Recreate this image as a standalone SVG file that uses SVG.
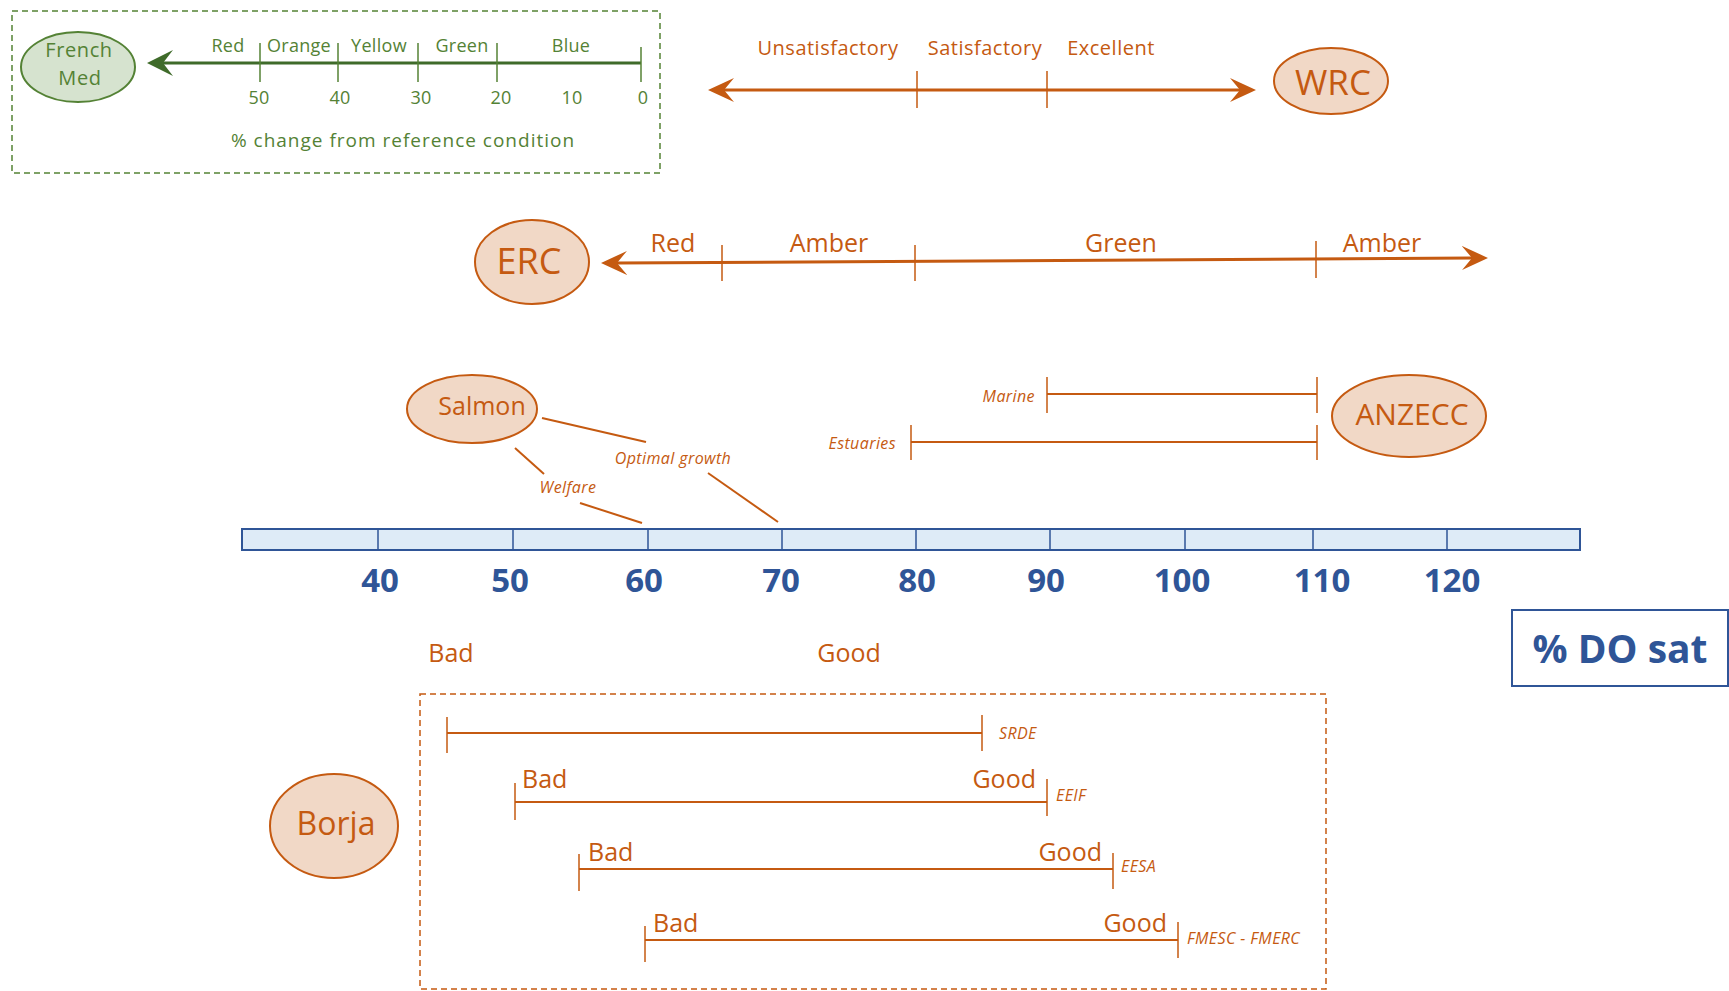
<svg xmlns="http://www.w3.org/2000/svg" width="1729" height="991" viewBox="0 0 1729 991">
<style>
  text { font-family: "Open Sans", "Liberation Sans", sans-serif; }
  .g { fill: #548235; }
  .o { fill: #C55A11; }
  .b { fill: #2F5597; font-weight: bold; }
  .it { font-style: italic; font-size: 16px; letter-spacing: 0.4px; }
  .mid { text-anchor: middle; }
  .end { text-anchor: end; }
  .node-o { fill: #F1D8C6; stroke: #C55A11; stroke-width: 2; }
  .node-g { fill: #D6E3CF; stroke: #548235; stroke-width: 2; }
  .ln-o { stroke: #C55A11; stroke-width: 2; fill: none; }
  .ax-o { stroke: #C55A11; stroke-width: 3; fill: none; }
  .tk-o { stroke: #C55A11; stroke-width: 1.5; }
  .ax-g { stroke: #3F6B2A; stroke-width: 3; fill: none; }
  .tk-g { stroke: #548235; stroke-width: 1.5; }
  .dash-g { fill: none; stroke: #548235; stroke-width: 1.5; stroke-dasharray: 6 4; }
  .dash-o { fill: none; stroke: #C55A11; stroke-width: 1.5; stroke-dasharray: 6 4; }
</style>
<defs>
  <marker id="arrO" markerUnits="userSpaceOnUse" markerWidth="28" markerHeight="28" viewBox="0 0 28 28" refX="10" refY="13" orient="auto-start-reverse">
    <path d="M0,1 L26,13 L0,25 L10,13 Z" fill="#C55A11"/>
  </marker>
  <marker id="arrG" markerUnits="userSpaceOnUse" markerWidth="28" markerHeight="28" viewBox="0 0 28 28" refX="10" refY="13" orient="auto-start-reverse">
    <path d="M0,0 L26,13 L0,26 L10,13 Z" fill="#3F6B2A"/>
  </marker>
</defs>
<rect width="1729" height="991" fill="#ffffff"/>

<!-- French Med scale -->
<g id="french-med-scale">
  <rect class="dash-g" x="12" y="11" width="648" height="162"/>
  <line class="ax-g" x1="163" y1="63" x2="641" y2="63" marker-start="url(#arrG)"/>
  <line class="tk-g" x1="260" y1="43" x2="260" y2="82"/>
  <line class="tk-g" x1="338" y1="43" x2="338" y2="82"/>
  <line class="tk-g" x1="418" y1="43" x2="418" y2="82"/>
  <line class="tk-g" x1="497" y1="43" x2="497" y2="82"/>
  <line class="tk-g" x1="641" y1="47" x2="641" y2="82"/>
  <g class="g mid" font-size="18" letter-spacing="0.3">
    <text x="228" y="52">Red</text>
    <text x="299" y="52">Orange</text>
    <text x="379" y="52">Yellow</text>
    <text x="462" y="52">Green</text>
    <text x="571" y="52">Blue</text>
    <text x="259" y="104">50</text>
    <text x="340" y="104">40</text>
    <text x="421" y="104">30</text>
    <text x="501" y="104">20</text>
    <text x="572" y="104">10</text>
    <text x="643" y="104">0</text>
  </g>
  <text class="g mid" x="403" y="147" font-size="19" letter-spacing="1">% change from reference condition</text>
</g>
<g id="french-med">
  <ellipse class="node-g" cx="78" cy="67" rx="57" ry="35"/>
  <text class="g mid" x="79" y="57" font-size="20" letter-spacing="0.6">French</text>
  <text class="g mid" x="80" y="85" font-size="20" letter-spacing="0.6">Med</text>
</g>

<!-- WRC scale -->
<g id="wrc-scale">
  <line class="ax-o" x1="724" y1="90" x2="1240" y2="90" marker-start="url(#arrO)" marker-end="url(#arrO)"/>
  <line class="tk-o" x1="917" y1="71" x2="917" y2="108"/>
  <line class="tk-o" x1="1047" y1="71" x2="1047" y2="108"/>
  <g class="o mid" font-size="20" letter-spacing="0.5">
    <text x="828" y="55">Unsatisfactory</text>
    <text x="985" y="55">Satisfactory</text>
    <text x="1111" y="55">Excellent</text>
  </g>
</g>
<g id="wrc">
  <ellipse class="node-o" cx="1331" cy="81" rx="57" ry="33"/>
  <text class="o mid" x="1333" y="95" font-size="35">WRC</text>
</g>

<!-- ERC scale -->
<g id="erc-scale">
  <line class="ax-o" x1="617" y1="263" x2="1472" y2="258" marker-start="url(#arrO)" marker-end="url(#arrO)"/>
  <line class="tk-o" x1="722" y1="245" x2="722" y2="281"/>
  <line class="tk-o" x1="915" y1="245" x2="915" y2="281"/>
  <line class="tk-o" x1="1316" y1="241" x2="1316" y2="278"/>
  <g class="o mid" font-size="25">
    <text x="673" y="252">Red</text>
    <text x="829" y="252">Amber</text>
    <text x="1121" y="252">Green</text>
    <text x="1382" y="252">Amber</text>
  </g>
</g>
<g id="erc">
  <ellipse class="node-o" cx="532" cy="262" rx="57" ry="42"/>
  <text class="o mid" x="529" y="274" font-size="36">ERC</text>
</g>

<!-- Salmon -->
<g id="salmon">
  <ellipse class="node-o" cx="472" cy="409" rx="65" ry="34"/>
  <text class="o mid" x="482" y="415" font-size="25">Salmon</text>
</g>
<g id="connectors">
  <line class="ln-o" x1="542" y1="418" x2="646" y2="442"/>
  <line class="ln-o" x1="708" y1="473" x2="778" y2="522"/>
  <line class="ln-o" x1="515" y1="448" x2="544" y2="474"/>
  <line class="ln-o" x1="580" y1="503" x2="642" y2="523"/>
  <text class="o it mid" x="673" y="464">Optimal growth</text>
  <text class="o it mid" x="568" y="493">Welfare</text>
</g>

<!-- ANZECC -->
<g id="anzecc-ranges">
  <line class="ln-o" x1="1047" y1="394" x2="1317" y2="394"/>
  <line class="tk-o" x1="1047" y1="377" x2="1047" y2="413"/>
  <line class="tk-o" x1="1317" y1="377" x2="1317" y2="413"/>
  <line class="ln-o" x1="911" y1="442" x2="1317" y2="442"/>
  <line class="tk-o" x1="911" y1="425" x2="911" y2="460"/>
  <line class="tk-o" x1="1317" y1="425" x2="1317" y2="460"/>
  <text class="o it end" x="1035" y="402">Marine</text>
  <text class="o it end" x="896" y="449">Estuaries</text>
</g>
<g id="anzecc">
  <ellipse class="node-o" cx="1409" cy="416" rx="77" ry="41"/>
  <text class="o mid" x="1412" y="425" font-size="30">ANZECC</text>
</g>

<!-- DO scale bar -->
<g id="do-scale">
  <rect x="242" y="529" width="1338" height="21" fill="#DEEBF7" stroke="#2F5597" stroke-width="2"/>
  <g stroke="#2F5597" stroke-width="1.5">
    <line x1="378" y1="529" x2="378" y2="550"/>
    <line x1="513" y1="529" x2="513" y2="550"/>
    <line x1="648" y1="529" x2="648" y2="550"/>
    <line x1="782" y1="529" x2="782" y2="550"/>
    <line x1="916" y1="529" x2="916" y2="550"/>
    <line x1="1050" y1="529" x2="1050" y2="550"/>
    <line x1="1185" y1="529" x2="1185" y2="550"/>
    <line x1="1313" y1="529" x2="1313" y2="550"/>
    <line x1="1447" y1="529" x2="1447" y2="550"/>
  </g>
  <g class="b mid" font-size="33">
    <text x="380" y="592">40</text>
    <text x="510" y="592">50</text>
    <text x="644" y="592">60</text>
    <text x="781" y="592">70</text>
    <text x="917" y="592">80</text>
    <text x="1046" y="592">90</text>
    <text x="1182" y="592">100</text>
    <text x="1322" y="592">110</text>
    <text x="1452" y="592">120</text>
  </g>
</g>
<g id="do-label">
  <rect x="1512" y="610" width="216" height="76" fill="#ffffff" stroke="#2F5597" stroke-width="2"/>
  <text class="b mid" x="1620" y="663" font-size="40" textLength="175" lengthAdjust="spacingAndGlyphs">% DO sat</text>
</g>

<g id="bad-good">
  <text class="o mid" x="451" y="662" font-size="25">Bad</text>
  <text class="o mid" x="849" y="662" font-size="25">Good</text>
</g>

<!-- Borja -->
<g id="borja-ranges">
  <rect class="dash-o" x="420" y="694" width="906" height="295"/>
  <line class="ln-o" x1="447" y1="733" x2="982" y2="733"/>
  <line class="tk-o" x1="447" y1="717" x2="447" y2="753"/>
  <line class="tk-o" x1="982" y1="715" x2="982" y2="751"/>
  <text class="o it" x="999" y="739">SRDE</text>

  <line class="ln-o" x1="515" y1="802" x2="1047" y2="802"/>
  <line class="tk-o" x1="515" y1="783" x2="515" y2="820"/>
  <line class="tk-o" x1="1047" y1="779" x2="1047" y2="816"/>
  <text class="o" x="522" y="788" font-size="25">Bad</text>
  <text class="o end" x="1036" y="788" font-size="25">Good</text>
  <text class="o it" x="1056" y="801">EEIF</text>

  <line class="ln-o" x1="579" y1="869" x2="1113" y2="869"/>
  <line class="tk-o" x1="579" y1="854" x2="579" y2="891"/>
  <line class="tk-o" x1="1113" y1="853" x2="1113" y2="889"/>
  <text class="o" x="588" y="861" font-size="25">Bad</text>
  <text class="o end" x="1102" y="861" font-size="25">Good</text>
  <text class="o it" x="1121" y="872">EESA</text>

  <line class="ln-o" x1="645" y1="940" x2="1178" y2="940"/>
  <line class="tk-o" x1="645" y1="926" x2="645" y2="962"/>
  <line class="tk-o" x1="1178" y1="922" x2="1178" y2="958"/>
  <text class="o" x="653" y="932" font-size="25">Bad</text>
  <text class="o end" x="1167" y="932" font-size="25">Good</text>
  <text class="o it" x="1187" y="944">FMESC - FMERC</text>
</g>
<g id="borja">
  <ellipse class="node-o" cx="334" cy="826" rx="64" ry="52"/>
  <text class="o mid" x="336" y="835" font-size="32">Borja</text>
</g>
</svg>
